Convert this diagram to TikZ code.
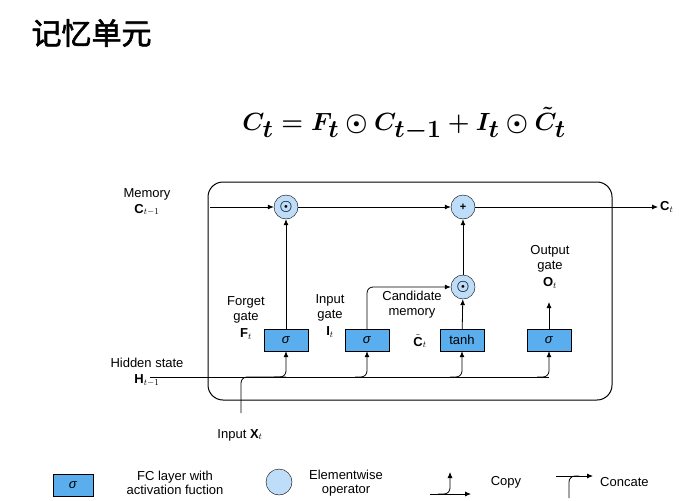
\documentclass[tikz,border=0pt]{standalone}
\usepackage{amsmath}
\usepackage{fontspec}
\setmainfont{Liberation Sans}
\newfontfamily\cjk[FakeBold=2]{Noto Sans CJK SC}
\usetikzlibrary{arrows.meta}
\definecolor{boxb}{HTML}{5AAEEE}
\definecolor{circb}{HTML}{BEDDF8}
\newcommand{\sig}{\textit{σ}}
\begin{document}
\begin{tikzpicture}[x=1pt,y=-1pt,
  lbl/.style={font=\fontsize{13}{14}\selectfont, align=center, inner sep=0},
  fc/.style={draw=black, fill=boxb, minimum width=44, minimum height=22, inner sep=0, font=\fontsize{13}{14}\selectfont},
  op/.style={circle, draw=black, fill=circb, minimum size=24, inner sep=0, font=\fontsize{14}{15}\selectfont},
  ar/.style={-{Latex[length=6,width=5]}, line width=0.8},
  ln/.style={line width=0.8, rounded corners=6}]
\useasboundingbox (0,0) rectangle (679,500);
\node[anchor=west, font=\cjk\fontsize{30}{32}\selectfont] (title) at (28,33) {记忆单元};
\node (eq) at (404,124) {\fontsize{33}{35}\selectfont $\boldsymbol{C_t = F_t \odot C_{t-1} + I_t \odot \tilde{C}_t}$};
\draw[line width=1, rounded corners=15] (208,182) rectangle (612,400);
\node[op] (m1) at (286,207) {$\boldsymbol{\odot}$};
\node[op] (p1) at (463,207) {\fontsize{11}{12}\selectfont\textbf{+}};
\node[op] (m2) at (463,287) {$\boldsymbol{\odot}$};
\coordinate (cin) at (210,207);
\coordinate (cout) at (658,207);
\draw[ar] (cin) -- (m1);
\draw[ar] (m1) -- (p1);
\draw[ar] (p1) -- (cout);
\draw[ar] (m2) -- (p1);
\node[fc] (f) at (286,340) {\sig};
\node[fc] (i) at (367,340) {\sig};
\node[fc] (t) at (462,340) {tanh};
\node[fc] (o) at (549,340) {\sig};
\draw[ar] (f) -- (m1);
\draw[ar] (t) -- (m2);
\draw[ar, rounded corners=6] (i.north) |- (m2.west);
\coordinate (oo) at (549,302);
\draw[ar] (o) -- (oo);
\coordinate (hs) at (150,377);
\coordinate (xs) at (241,413);
\draw[ln] (hs) -- (549,377);
\draw[ln] (xs) |- (286,377);
\foreach \b/\x in {f/286,i/367,t/462,o/549}{
  \draw[ar, rounded corners=6] (\x-12,377) -| (\b.south);
}
\node[lbl] (lm) at (147,202) {Memory\\[2pt]$\mathbf{C}_{t-1}$};
\node[lbl, anchor=west] (lct) at (660,207) {$\mathbf{C}_t$};
\node[lbl] (lh) at (147,372) {Hidden state\\[2pt]$\mathbf{H}_{t-1}$};
\node[lbl] (lx) at (240,435) {Input $\mathbf{X}_t$};
\node[lbl] (lf) at (246,318) {Forget\\[1pt]gate\\[3pt]$\mathbf{F}_t$};
\node[lbl] (li) at (330,316) {Input\\[1pt]gate\\[3pt]$\mathbf{I}_t$};
\node[lbl] (lc) at (412,305) {Candidate\\[1pt]memory};
\node[lbl] (lct2) at (420,341) {$\tilde{\mathbf{C}}_t$};
\node[lbl] (lo) at (550,267) {Output\\[1pt]gate\\[3pt]$\mathbf{O}_t$};
\node[fc, minimum width=40] (lg1) at (73,485) {\sig};
\node[lbl] (lg1t) at (175,483) {FC layer with\\activation fuction};
\node[op, minimum size=26] (lg2) at (279,482) {};
\node[lbl] (lg2t) at (346,483) {Elementwise\\operator};
\coordinate (c1) at (430,494);
\coordinate (c2) at (471,494);
\coordinate (c3) at (450,472);
\draw[ar] (c1) -- (c2);
\draw[ar, rounded corners=6] (438,494) -| (c3);
\node[lbl] (lg3t) at (506,482) {Copy};
\coordinate (d1) at (556,476);
\coordinate (d2) at (593,476);
\coordinate (d3) at (569,498);
\draw[ar] (d1) -- (d2);
\draw[ln] (d3) |- (579,476);
\node[lbl, anchor=west] (lg4t) at (600,482) {Concate};
\end{tikzpicture}
\end{document}
